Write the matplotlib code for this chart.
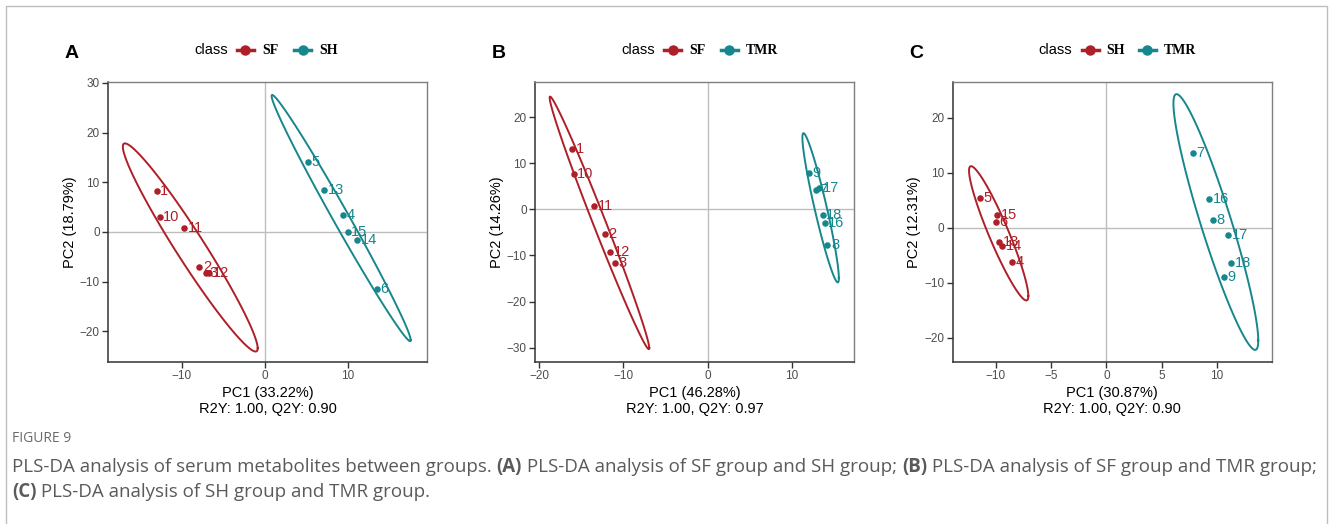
import numpy as np
import matplotlib
matplotlib.use("Agg")
import matplotlib.pyplot as plt
from matplotlib.lines import Line2D
from matplotlib.patches import Rectangle

# ---------------- data ----------------
# Panel A: SF vs SH
a_sf_ids = ["1", "10", "11", "2", "3", "12"]
a_sf_x = [-13.05, -12.7, -9.7, -7.9, -7.1, -6.75]
a_sf_y = [8.3, 3.1, 0.87, -7.1, -8.2, -8.3]
a_sh_ids = ["5", "13", "4", "15", "14", "6"]
a_sh_x = [5.2, 7.1, 9.4, 9.96, 11.1, 13.5]
a_sh_y = [14.05, 8.5, 3.5, -0.1, -1.7, -11.4]

# Panel B: SF vs TMR
b_sf_ids = ["1", "10", "11", "2", "12", "3"]
b_sf_x = [-16.1, -15.9, -13.5, -12.2, -11.6, -11.0]
b_sf_y = [13.1, 7.6, 0.7, -5.3, -9.3, -11.6]
b_tmr_ids = ["9", "7", "17", "18", "16", "8"]
b_tmr_x = [12.07, 12.9, 13.3, 13.7, 13.9, 14.25]
b_tmr_y = [7.8, 4.2, 4.7, -1.2, -2.9, -7.7]

# Panel C: SH vs TMR
c_sh_ids = ["5", "15", "6", "13", "14", "4"]
c_sh_x = [-11.45, -9.9, -10.0, -9.7, -9.4, -8.5]
c_sh_y = [5.45, 2.4, 0.98, -2.6, -3.3, -6.2]
c_tmr_ids = ["7", "16", "8", "17", "18", "9"]
c_tmr_x = [7.8, 9.3, 9.6, 11.0, 11.3, 10.6]
c_tmr_y = [13.6, 5.3, 1.5, -1.3, -6.4, -8.9]

panel_letters = ["A", "B", "C"]
group_names = [("SF", "SH"), ("SF", "TMR"), ("SH", "TMR")]
x_labels = ["PC1 (33.22%)\nR2Y: 1.00, Q2Y: 0.90",
            "PC1 (46.28%)\nR2Y: 1.00, Q2Y: 0.97",
            "PC1 (30.87%)\nR2Y: 1.00, Q2Y: 0.90"]
y_labels = ["PC2 (18.79%)", "PC2 (14.26%)", "PC2 (12.31%)"]
x_ticks = [[-10, 0, 10], [-20, -10, 0, 10], [-10, -5, 0, 5, 10]]
y_ticks = [[-20, -10, 0, 10, 20, 30], [-30, -20, -10, 0, 10, 20], [-20, -10, 0, 10, 20]]
x_lims = [(-18.9, 19.5), (-20.5, 17.4), (-13.9, 14.95)]
y_lims = [(-26.2, 30.2), (-33.1, 27.6), (-24.4, 26.5)]

caption_head = "FIGURE 9"

RED = "#AE1F28"
TEAL = "#16878D"

panels = [
    ((a_sf_ids, a_sf_x, a_sf_y), (a_sh_ids, a_sh_x, a_sh_y)),
    ((b_sf_ids, b_sf_x, b_sf_y), (b_tmr_ids, b_tmr_x, b_tmr_y)),
    ((c_sh_ids, c_sh_x, c_sh_y), (c_tmr_ids, c_tmr_x, c_tmr_y)),
]

plt.rcParams["font.family"] = ["Liberation Sans", "DejaVu Sans"]

W, H = 1330, 524
fig = plt.figure(figsize=(W / 100, H / 100), dpi=100)


def px(x, y):
    return x / W, 1 - y / H


def cov_trob(X, nu=5, maxit=25, tol=0.01):
    n, p = X.shape
    wt = np.ones(n)
    loc = X.mean(axis=0)
    w = np.sqrt(wt)
    for _ in range(maxit):
        w0 = w
        Xc = X - loc
        _, d, vt = np.linalg.svd(np.sqrt(w / w.sum())[:, None] * Xc, full_matrices=False)
        wX = Xc @ vt.T @ np.diag(1 / d)
        Q = (wX ** 2).sum(axis=1)
        w = (wt * (nu + p)) / (nu + Q)
        loc = (w[:, None] * X).sum(axis=0) / w.sum()
        if np.all(np.abs(w - w0) < tol):
            break
    Xc = X - loc
    cov = (np.sqrt(w)[:, None] * Xc).T @ (np.sqrt(w)[:, None] * Xc) / wt.sum()
    return loc, cov


def ellipse(x, y, level=0.95, npts=100):
    X = np.column_stack([x, y])
    n = len(x)
    d = n - 1
    fq = (d / 2.0) * ((1 - level) ** (-2.0 / d) - 1)
    r = np.sqrt(2 * fq)
    loc, cov = cov_trob(X)
    chol = np.linalg.cholesky(cov).T  # upper triangular like R chol
    t = np.linspace(0, 2 * np.pi, npts)
    circ = np.column_stack([np.cos(t), np.sin(t)])
    pts = loc + r * circ @ chol
    return pts[:, 0], pts[:, 1]


# figure frame
fig.patches.append(Rectangle(px(6, 560), (1327 - 6) / W, (560 - 6) / H,
                             transform=fig.transFigure, fill=False,
                             edgecolor="#BDBDBD", lw=1.0))

lefts = [108, 535, 952.7]
for i, (pan, left) in enumerate(zip(panels, lefts)):
    x0, y0 = px(left, 362)
    ax = fig.add_axes([x0, y0, 319 / W, 280 / H])
    ax.axhline(0, color="#BEBEBE", lw=1.0, zorder=0)
    ax.axvline(0, color="#BEBEBE", lw=1.0, zorder=0)
    for (ids, xs, ys), col in zip(pan, [RED, TEAL]):
        ex, ey = ellipse(xs, ys)
        ax.plot(ex, ey, color=col, lw=1.4, zorder=2)
        ax.scatter(xs, ys, s=22, color=col, zorder=3, linewidths=0)
        for lab, xx, yy in zip(ids, xs, ys):
            ax.annotate(lab, (xx, yy), xytext=(2.5, 0), textcoords="offset points",
                        ha="left", va="center", color=col, fontsize=10.5, zorder=4)
    ax.set_xlim(x_lims[i]); ax.set_ylim(y_lims[i])
    ax.set_xticks(x_ticks[i]); ax.set_yticks(y_ticks[i])
    ax.set_xticklabels([str(v).replace("-", "\u2212") for v in x_ticks[i]])
    ax.set_yticklabels([str(v).replace("-", "\u2212") for v in y_ticks[i]])
    ax.tick_params(direction="out", length=4, width=1, color="#333333",
                   labelsize=8.5, labelcolor="#4D4D4D", pad=2)
    for s in ["left", "bottom"]:
        ax.spines[s].set_color("#333333"); ax.spines[s].set_linewidth(1.1)
    for s in ["top", "right"]:
        ax.spines[s].set_color("#7F7F7F"); ax.spines[s].set_linewidth(1.0)
    ax.set_xlabel(x_labels[i], fontsize=10.5, labelpad=3, linespacing=1.15)
    ax.set_ylabel(y_labels[i], fontsize=10.5, labelpad=2)

    # panel letter
    lx, ly = px(left - 36, 53)
    fig.text(lx, ly, panel_letters[i], fontsize=14, fontweight="bold",
             ha="center", va="center")
    # legend
    base = left + 86
    cy = 1 - 50 / H
    fig.text(*px(base, 50), "class", fontsize=10.5, ha="left", va="center")
    kx = base + 43
    for gname, col in zip(group_names[i], [RED, TEAL]):
        fig.add_artist(Line2D([kx / W, (kx + 17) / W], [cy, cy], color=col, lw=2.5,
                              transform=fig.transFigure))
        fig.add_artist(Line2D([(kx + 8.5) / W], [cy], color=col, marker="o",
                              markersize=6.5, transform=fig.transFigure))
        fig.text((kx + 25) / W, cy, gname, fontsize=10, ha="left", va="center",
                 family="Liberation Serif", fontweight="bold")
        kx += 25 + 10 * len(gname) + 12

# caption
fig.text(*px(12, 438), caption_head, fontsize=10, color="#6B6B6B",
         family="Open Sans", ha="left", va="center")
cap_fs = 13.5
capcol = "#5A5A5A"
line1 = [("PLS-DA analysis of serum metabolites between groups. ", "normal"),
         ("(A)", "bold"), (" PLS-DA analysis of SF group and SH group; ", "normal"),
         ("(B)", "bold"), (" PLS-DA analysis of SF group and TMR group;", "normal")]
line2 = [("(C)", "bold"), (" PLS-DA analysis of SH group and TMR group.", "normal")]

fig.canvas.draw()
renderer = fig.canvas.get_renderer()
for line, yy in [(line1, 467), (line2, 492)]:
    x = 12
    for txt, w in line:
        t = fig.text(*px(x, yy), txt, fontsize=cap_fs, color=capcol, family="Open Sans",
                     fontweight=w, ha="left", va="center")
        bb = t.get_window_extent(renderer)
        x += bb.width

fig.savefig("out.png", dpi=100)
